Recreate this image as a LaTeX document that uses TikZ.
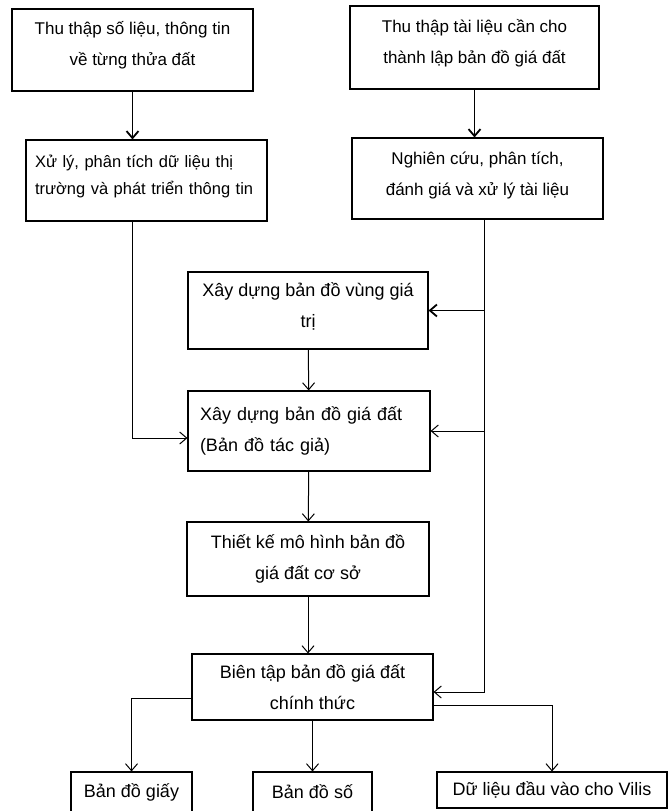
\documentclass[tikz,border=0pt]{standalone}
\usepackage{fontspec}
\setmainfont{Liberation Sans}
\usetikzlibrary{arrows.meta}

\begin{document}
\begin{tikzpicture}[x=1pt,y=-1pt,line width=1pt,
    every node/.style={draw,rectangle,line width=1.1pt,inner sep=0pt,align=center,
      font=\fontsize{18}{31}\selectfont},
    topbox/.style={font=\fontsize{17}{31}\selectfont},
    leftbox/.style={align=left,text width=#1},
    >={Straight Barb[length=7pt,width=12pt]},
    bold/.style={line width=1.8pt}
    ]
    \useasboundingbox (0,0) rectangle (671,811);

    % the two input columns
    \node[topbox,minimum width=241pt,minimum height=82pt,text depth=14pt] (l1) at (132.5,50) {Thu thập số liệu, thông tin\\về từng thửa đất};
    \node[minimum width=241pt,minimum height=81pt,text depth=38pt,leftbox=223pt,
      font=\fontsize{16.5}{27}\selectfont] (l2) at (146.5,180.5) {Xử lý, phân tích dữ liệu thị\\trường và phát triển thông tin};
    \node[topbox,minimum width=249pt,minimum height=83pt,text depth=13pt] (r1) at (474.5,47.5) {Thu thập tài liệu cần cho\\thành lập bản đồ giá đất};
    \node[topbox,minimum width=251pt,minimum height=81pt,text depth=9pt] (r2) at (477.5,178.5) {Nghiên cứu, phân tích,\\đánh giá và xử lý tài liệu};

    % the main chain
    \node[minimum width=240pt,minimum height=77pt,text depth=10pt] (m1) at (308,310.5) {Xây dựng bản đồ vùng giá\\trị};
    \node[minimum width=242pt,minimum height=80pt,leftbox=218pt] (m2) at (309,431) {Xây dựng bản đồ giá đất\\(Bản đồ tác giả)};
    \node[minimum width=242pt,minimum height=74pt] (m3) at (308,559) {Thiết kế mô hình bản đồ\\giá đất cơ sở};
    \node[minimum width=241pt,minimum height=66pt] (m4) at (312.5,687) {Biên tập bản đồ giá đất\\chính thức};

    % the outputs
    \node[minimum width=121pt,minimum height=40pt] (o1) at (131.5,792) {Bản đồ giấy};
    \node[minimum width=119pt,minimum height=40pt] (o2) at (312.5,792) {Bản đồ số};
    \node[minimum width=230pt,minimum height=36pt] (o3) at (552,790) {Dữ liệu đầu vào cho Vilis};

    \coordinate (rx) at ([xshift=7pt]r2.south);

    % the edges
    \draw[->,bold] (l1.south) -- (l1.south |- l2.north);
    \draw[->,bold] (r1.south) -- (r1.south |- r2.north);
    \draw[->] (l1.south |- l2.south) |- ([yshift=-7pt]m2.west);
    \draw (rx) -- ([yshift=-5pt]rx |- m4.east);
    \draw[->,bold] (rx |- m1.east) -- (m1.east);
    \draw[->] (rx |- m2.east) -- (m2.east);
    \draw[->] (rx |- m4.east) ++(0,5) -- ([yshift=-5pt]m4.east);
    \draw[->] (m1) -- (m2);
    \draw[->] (m2) -- (m3);
    \draw[->] (m3.south) -- (m3.south |- m4.north);
    \draw[->] ([yshift=-11pt]m4.west) -| (o1.north);
    \draw[->] (m4) -- (o2);
    \draw[->] ([yshift=-18pt]m4.east) -| (o3.north);
\end{tikzpicture}
\end{document}
